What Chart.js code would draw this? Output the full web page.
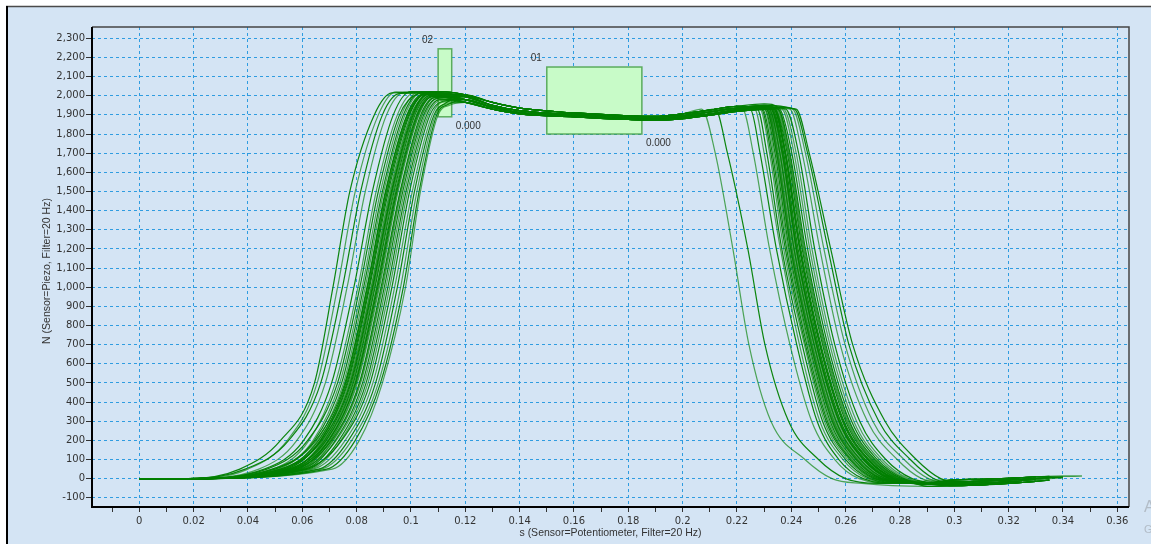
<!DOCTYPE html>
<html>
<head>
<meta charset="utf-8">
<script src="https://cdn.jsdelivr.net/npm/chart.js@4/dist/chart.umd.min.js"></script>
<style>
  html, body { margin: 0; padding: 0; background: #fff; }
  canvas { display: block; }
</style>
</head>
<body>
<canvas id="chart" width="1151" height="544"></canvas>
<script>
// Force (N) against travel (s), one stroke per press cycle.
const riseLevels = [50, 200, 500, 1000, 1500, 1900]
const fallLevels = [1930, 1700, 1200, 700, 300, 100, 0, -25]

// shared zero run before the press starts
const startX = [0, 0.018]

// x at each rise level, last entry = x of the stroke's peak
const riseX = [
  [0.037, 0.052, 0.0645, 0.0713, 0.0775, 0.0865, 0.093],
  [0.040, 0.0545, 0.0655, 0.0730, 0.0795, 0.088, 0.0945],
  [0.039, 0.055, 0.0668, 0.0748, 0.0815, 0.0895, 0.096],
  [0.044, 0.058, 0.0685, 0.0765, 0.0832, 0.091, 0.0975],
  [0.046, 0.0605, 0.0708, 0.0790, 0.0858, 0.0935, 0.100],
  [0.049, 0.0625, 0.0722, 0.0805, 0.0872, 0.0950, 0.1015],
  [0.047, 0.0620, 0.0730, 0.0812, 0.0880, 0.0958, 0.1025],
  [0.051, 0.0640, 0.0738, 0.0820, 0.0888, 0.0965, 0.1030],
  [0.049, 0.0645, 0.0745, 0.0826, 0.0895, 0.0972, 0.1035],
  [0.053, 0.0655, 0.0752, 0.0832, 0.0900, 0.0978, 0.1040],
  [0.050, 0.0650, 0.0757, 0.0838, 0.0906, 0.0985, 0.1045],
  [0.054, 0.0665, 0.0762, 0.0843, 0.0911, 0.0990, 0.1050],
  [0.052, 0.0668, 0.0768, 0.0848, 0.0917, 0.0995, 0.1055],
  [0.056, 0.0675, 0.0772, 0.0853, 0.0922, 0.1000, 0.1058],
  [0.053, 0.0672, 0.0777, 0.0858, 0.0928, 0.1005, 0.1062],
  [0.057, 0.0685, 0.0783, 0.0863, 0.0932, 0.1010, 0.1066],
  [0.055, 0.0688, 0.0788, 0.0868, 0.0938, 0.1015, 0.1070],
  [0.058, 0.0695, 0.0792, 0.0873, 0.0942, 0.1020, 0.1074],
  [0.056, 0.0697, 0.0797, 0.0878, 0.0948, 0.1025, 0.1078],
  [0.059, 0.0705, 0.0803, 0.0884, 0.0953, 0.1030, 0.1082],
  [0.057, 0.0708, 0.0810, 0.0890, 0.0960, 0.1036, 0.1086],
  [0.060, 0.0715, 0.0815, 0.0896, 0.0965, 0.1042, 0.1092],
  [0.061, 0.0722, 0.0822, 0.0902, 0.0970, 0.1047, 0.1097],
  [0.059, 0.0725, 0.0828, 0.0908, 0.0976, 0.1052, 0.1102],
  [0.062, 0.0735, 0.0835, 0.0915, 0.0982, 0.1058, 0.1106],
  [0.063, 0.0742, 0.0842, 0.0922, 0.0988, 0.1064, 0.1110],
  [0.061, 0.0745, 0.0850, 0.0930, 0.0995, 0.1070, 0.1115],
  [0.064, 0.0758, 0.0860, 0.0940, 0.1005, 0.1078, 0.1122],
  [0.066, 0.0770, 0.0870, 0.0950, 0.1013, 0.1085, 0.1128],
  [0.067, 0.0782, 0.0880, 0.0962, 0.1022, 0.1090, 0.1133],
  [0.069, 0.0795, 0.0888, 0.0972, 0.1030, 0.1095, 0.1138],
  [0.071, 0.0810, 0.0895, 0.0980, 0.1035, 0.1100, 0.1142],
  [0.054, 0.0668, 0.0765, 0.0845, 0.0913, 0.0992, 0.1052],
  [0.056, 0.0678, 0.0775, 0.0855, 0.0925, 0.1002, 0.1060],
  [0.055, 0.0682, 0.0780, 0.0860, 0.0930, 0.1008, 0.1064],
  [0.057, 0.0690, 0.0786, 0.0866, 0.0935, 0.1012, 0.1068],
  [0.058, 0.0698, 0.0795, 0.0875, 0.0945, 0.1022, 0.1076],
  [0.059, 0.0703, 0.0800, 0.0881, 0.0950, 0.1028, 0.1080],
  [0.052, 0.0660, 0.0760, 0.0840, 0.0908, 0.0987, 0.1048],
  [0.060, 0.0712, 0.0812, 0.0893, 0.0962, 0.1040, 0.1090]
]
const peakY = [2015, 2020, 2012, 2018, 2022, 2016, 2010, 2020, 2014, 2018,
               2008, 2012, 2015, 2005, 2010, 2006, 2000, 2004, 1995, 2000,
               1990, 1995, 1985, 1990, 1980, 1975, 1970, 1968, 1962, 1958,
               1955, 1950, 2010, 2005, 2008, 2000, 1998, 1995, 2012, 1990]

const fallX = [
  [0.2250, 0.2285, 0.2345, 0.2420, 0.2495, 0.2575, 0.2665, 0.2790],
  [0.2316, 0.2356, 0.2408, 0.2482, 0.2562, 0.2651, 0.2744, 0.2870],
  [0.2342, 0.2385, 0.2440, 0.2515, 0.2600, 0.2693, 0.2790, 0.2905],
  [0.2070, 0.2120, 0.2185, 0.2244, 0.2325, 0.2450, 0.2550, 0.2660],
  [0.2290, 0.2325, 0.2378, 0.2452, 0.2528, 0.2615, 0.2705, 0.2830],
  [0.2372, 0.2418, 0.2476, 0.2550, 0.2640, 0.2735, 0.2832, 0.2940],
  [0.2303, 0.2340, 0.2392, 0.2466, 0.2543, 0.2630, 0.2722, 0.2850],
  [0.2405, 0.2452, 0.2520, 0.2598, 0.2700, 0.2815, 0.2905, 0.3000],
  [0.2326, 0.2368, 0.2420, 0.2494, 0.2577, 0.2667, 0.2762, 0.2885],
  [0.2220, 0.2260, 0.2320, 0.2395, 0.2475, 0.2560, 0.2650, 0.2780],
  [0.2338, 0.2380, 0.2435, 0.2509, 0.2594, 0.2686, 0.2782, 0.2900],
  [0.2310, 0.2348, 0.2400, 0.2474, 0.2553, 0.2641, 0.2733, 0.2860],
  [0.2358, 0.2402, 0.2460, 0.2534, 0.2622, 0.2716, 0.2814, 0.2920],
  [0.2285, 0.2320, 0.2372, 0.2448, 0.2522, 0.2608, 0.2698, 0.2820],
  [0.2418, 0.2466, 0.2545, 0.2626, 0.2745, 0.2860, 0.2950, 0.3040],
  [0.2320, 0.2360, 0.2412, 0.2486, 0.2567, 0.2656, 0.2750, 0.2875],
  [0.2120, 0.2165, 0.2240, 0.2303, 0.2390, 0.2500, 0.2600, 0.2720],
  [0.2347, 0.2390, 0.2446, 0.2521, 0.2607, 0.2700, 0.2798, 0.2910],
  [0.2295, 0.2330, 0.2383, 0.2457, 0.2533, 0.2620, 0.2712, 0.2840],
  [0.2365, 0.2410, 0.2468, 0.2542, 0.2630, 0.2725, 0.2822, 0.2930],
  [0.2275, 0.2310, 0.2365, 0.2440, 0.2515, 0.2600, 0.2690, 0.2810],
  [0.2395, 0.2440, 0.2505, 0.2580, 0.2680, 0.2790, 0.2880, 0.2980],
  [0.2330, 0.2372, 0.2425, 0.2499, 0.2582, 0.2673, 0.2768, 0.2890],
  [0.2306, 0.2344, 0.2396, 0.2470, 0.2548, 0.2636, 0.2728, 0.2855],
  [0.2352, 0.2395, 0.2452, 0.2527, 0.2614, 0.2708, 0.2806, 0.2915],
  [0.2265, 0.2300, 0.2360, 0.2430, 0.2505, 0.2590, 0.2680, 0.2800],
  [0.2380, 0.2427, 0.2486, 0.2560, 0.2652, 0.2748, 0.2845, 0.2950],
  [0.2313, 0.2352, 0.2404, 0.2478, 0.2558, 0.2646, 0.2738, 0.2865],
  [0.2412, 0.2460, 0.2535, 0.2612, 0.2722, 0.2838, 0.2925, 0.3020],
  [0.2300, 0.2335, 0.2388, 0.2462, 0.2538, 0.2625, 0.2718, 0.2845],
  [0.2334, 0.2376, 0.2430, 0.2504, 0.2588, 0.2680, 0.2775, 0.2895],
  [0.2323, 0.2364, 0.2416, 0.2490, 0.2572, 0.2662, 0.2756, 0.2880],
  [0.2318, 0.2358, 0.2410, 0.2484, 0.2565, 0.2654, 0.2747, 0.2872],
  [0.2328, 0.2370, 0.2422, 0.2496, 0.2580, 0.2670, 0.2765, 0.2888],
  [0.2336, 0.2378, 0.2432, 0.2506, 0.2591, 0.2683, 0.2779, 0.2898],
  [0.2312, 0.2350, 0.2402, 0.2476, 0.2556, 0.2644, 0.2736, 0.2862],
  [0.2324, 0.2366, 0.2418, 0.2492, 0.2575, 0.2665, 0.2759, 0.2882],
  [0.2344, 0.2388, 0.2443, 0.2518, 0.2604, 0.2697, 0.2794, 0.2908],
  [0.2308, 0.2346, 0.2398, 0.2472, 0.2551, 0.2639, 0.2731, 0.2858],
  [0.2350, 0.2393, 0.2449, 0.2524, 0.2611, 0.2704, 0.2802, 0.2912]
]

// the hold phase between rise and fall, four bands
const plateauX = [0.10, 0.11, 0.12, 0.13, 0.14, 0.16, 0.18, 0.19, 0.20, 0.21, 0.22, 0.23, 0.24]
const plateauY = [
  [2018, 2022, 2005, 1965, 1935, 1910, 1895, 1892, 1905, 1925, 1945, 1958, 1962],
  [2010, 2015, 1995, 1950, 1922, 1902, 1888, 1885, 1895, 1915, 1935, 1950, 1955],
  [2002, 2008, 1980, 1940, 1912, 1895, 1882, 1878, 1888, 1905, 1925, 1942, 1948],
  [1995, 2000, 1965, 1930, 1905, 1890, 1876, 1872, 1880, 1898, 1918, 1935, 1940]
]
const plateauPick = [0, 0, 1, 0, 1, 2, 0, 1, 2, 1, 3, 2, 0, 1, 2, 3, 1, 2, 0, 3,
                     1, 2, 3, 1, 2, 3, 2, 3, 1, 3, 2, 3, 1, 2, 0, 3, 2, 1, 0, 2]

// return run after release
const tailX = [0.29, 0.30, 0.31, 0.32, 0.325, 0.33, 0.335, 0.34, 0.347]
const tailY = [
  [-8, -6, -3, 2, 6, 10, 12, 13, 14],
  [-20, -18, -13, -7, -3, 1, 5, 8, 10],
  [-30, -28, -23, -16, -11, -5, 0, 3, 6],
  [-40, -37, -32, -25, -20, -14, -8, -4, 0]
]
const tailPick = [1, 2, 0, 3, 1, 2, 3, 0, 2, 1, 3, 2, 0, 1, 3, 2, 1, 0, 2, 3,
                  1, 2, 0, 3, 2, 1, 3, 0, 2, 1, 3, 2, 0, 3, 1, 2, 3, 0, 2, 1]
const tailEnd = [0.33, 0.335, 0.325, 0.33, 0.34, 0.32, 0.335, 0.33, 0.31, 0.335,
                 0.33, 0.325, 0.347, 0.33, 0.335, 0.32, 0.33, 0.335, 0.325, 0.33,
                 0.34, 0.33, 0.335, 0.31, 0.33, 0.325, 0.335, 0.33, 0.32, 0.335,
                 0.33, 0.34, 0.33, 0.335, 0.33, 0.325, 0.335, 0.33, 0.32, 0.335]

// tick values on the force axis
const yTicks = [-100, 0, 100, 200, 300, 400, 500, 600, 700, 800, 900, 1000, 1100, 1200, 1300, 1400, 1500,
                1600, 1700, 1800, 1900, 2000, 2100, 2200, 2300]

// evaluation windows
const windowNames = ['01', '02']
const windowX = [[0.15, 0.185], [0.110, 0.115]]
const windowY = [[1800, 2150], [1890, 2245]]
const windowResult = ['0.000', '0.000']

const xTitle = 's (Sensor=Potentiometer, Filter=20 Hz)'
const yTitle = 'N (Sensor=Piezo, Filter=20 Hz)'

function strokePoints(i) {
  const pts = startX.map(x => ({ x, y: 0 }))
  riseLevels.forEach((y, k) => pts.push({ x: riseX[i][k], y }))
  const riseEnd = riseX[i][riseLevels.length]
  pts.push({ x: riseEnd, y: peakY[i] })
  const fallStart = fallX[i][0]
  const py = plateauY[plateauPick[i]]
  plateauX.forEach((x, k) => {
    if (x > riseEnd + 0.004 && x < fallStart - 0.004) pts.push({ x, y: py[k] })
  })
  fallLevels.forEach((y, k) => pts.push({ x: fallX[i][k], y }))
  const fallEnd = fallX[i][fallX[i].length - 1]
  const ty = tailY[tailPick[i]]
  tailX.forEach((x, k) => {
    if (x > fallEnd + 0.003 && x <= tailEnd[i] + 1e-9) pts.push({ x, y: ty[k] })
  })
  return pts
}

const datasets = riseX.map((_, i) => ({
  data: strokePoints(i),
  borderColor: i % 2 ? 'rgba(0,128,0,0.65)' : 'rgba(0,128,0,0.95)',
  borderWidth: 1.2,
  pointRadius: 0,
  fill: false,
  cubicInterpolationMode: 'monotone'
}))

const gridBlue = '#2f9ce0'
const isMajorX = v => Math.round(v * 100) % 2 === 0

// background, frame, windows and titles
const decor = {
  id: 'decor',
  beforeDraw(chart) {
    const { ctx, width, height } = chart
    ctx.save()
    ctx.fillStyle = '#ffffff'
    ctx.fillRect(0, 0, width, height)
    ctx.fillStyle = '#d4e4f4'
    ctx.fillRect(7, 7, width - 7, height - 7)
    ctx.strokeStyle = '#4a4a4a'
    ctx.lineWidth = 1.5
    ctx.beginPath()
    ctx.moveTo(6, 6.5)
    ctx.lineTo(width, 6.5)
    ctx.stroke()
    ctx.strokeStyle = '#000'
    ctx.lineWidth = 2
    ctx.beginPath()
    ctx.moveTo(7, 6)
    ctx.lineTo(7, height)
    ctx.stroke()
    ctx.restore()
  },
  beforeDatasetsDraw(chart) {
    const { ctx, scales: { x, y } } = chart
    ctx.save()
    windowNames.forEach((name, i) => {
      const l = x.getPixelForValue(windowX[i][0])
      const r = x.getPixelForValue(windowX[i][1])
      const t = y.getPixelForValue(windowY[i][1])
      const b = y.getPixelForValue(windowY[i][0])
      ctx.fillStyle = '#c8fbc8'
      ctx.fillRect(l, t, r - l, b - t)
      ctx.strokeStyle = 'rgba(70,160,70,0.85)'
      ctx.lineWidth = 1.5
      ctx.strokeRect(l, t, r - l, b - t)
    })
    ctx.restore()
  },
  afterDatasetsDraw(chart) {
    const { ctx, scales: { x, y } } = chart
    ctx.save()
    ctx.font = '10px "Liberation Sans", Arial, sans-serif'
    ctx.fillStyle = '#333'
    windowNames.forEach((name, i) => {
      const l = x.getPixelForValue(windowX[i][0])
      const r = x.getPixelForValue(windowX[i][1])
      const t = y.getPixelForValue(windowY[i][1])
      const b = y.getPixelForValue(windowY[i][0])
      ctx.textAlign = 'right'
      ctx.textBaseline = 'bottom'
      ctx.fillText(name, l - 5, t - 4)
      ctx.textAlign = 'left'
      ctx.textBaseline = 'top'
      ctx.fillText(windowResult[i], r + 4, b + 4)
    })
    ctx.restore()
  },
  afterDraw(chart) {
    const { ctx, chartArea: a } = chart
    ctx.save()
    // plot frame
    ctx.strokeStyle = '#444'
    ctx.lineWidth = 1.5
    ctx.beginPath()
    ctx.moveTo(a.left, a.top)
    ctx.lineTo(a.right, a.top)
    ctx.lineTo(a.right, a.bottom)
    ctx.stroke()
    ctx.strokeStyle = '#000'
    ctx.lineWidth = 2
    ctx.beginPath()
    ctx.moveTo(a.left, a.top)
    ctx.lineTo(a.left, a.bottom)
    ctx.lineTo(a.right, a.bottom)
    ctx.stroke()
    // axis titles
    ctx.fillStyle = '#333'
    ctx.font = '10.5px "Liberation Sans", Arial, sans-serif'
    ctx.textAlign = 'center'
    ctx.textBaseline = 'middle'
    ctx.fillText(xTitle, (a.left + a.right) / 2, 533)
    ctx.translate(47, 271)
    ctx.rotate(-Math.PI / 2)
    ctx.fillText(yTitle, 0, 0)
    ctx.restore()
    // faint system watermark at the right edge
    ctx.save()
    ctx.fillStyle = 'rgba(150,155,160,0.55)'
    ctx.textAlign = 'left'
    ctx.textBaseline = 'alphabetic'
    ctx.font = '16px "Liberation Sans", Arial, sans-serif'
    ctx.fillText('Activate Windows', 1144, 512)
    ctx.font = '11px "Liberation Sans", Arial, sans-serif'
    ctx.fillText('Go to Settings to activate Windows.', 1144, 533)
    ctx.restore()
  }
}

new Chart(document.getElementById('chart'), {
  type: 'line',
  data: { datasets },
  plugins: [decor],
  options: {
    responsive: false,
    animation: false,
    devicePixelRatio: 1,
    layout: { padding: { left: 0, top: 27, right: 22, bottom: 0 } },
    plugins: { legend: { display: false }, tooltip: { enabled: false } },
    scales: {
      x: {
        type: 'linear',
        min: -0.0174,
        max: 0.3643,
        afterFit: s => { s.height = 37 },
        border: { display: false, dash: [3, 3] },
        grid: {
          color: c => (c.tick && isMajorX(c.tick.value)) ? gridBlue : 'rgba(0,0,0,0)',
          lineWidth: 1,
          tickColor: '#333',
          tickLength: 5
        },
        ticks: {
          stepSize: 0.01,
          includeBounds: false,
          autoSkip: false,
          maxRotation: 0,
          padding: 3,
          color: '#333',
          font: { family: '"DejaVu Sans", Verdana, sans-serif', size: 10 },
          callback: v => isMajorX(v) ? String(+(Math.round(v * 100) / 100).toFixed(2)) : ''
        }
      },
      y: {
        min: -148,
        max: 2359,
        afterFit: s => { s.width = 92 },
        afterBuildTicks: s => { s.ticks = yTicks.map(value => ({ value })) },
        border: { display: false, dash: [3, 3] },
        grid: {
          color: gridBlue,
          lineWidth: 1,
          tickColor: '#333',
          tickLength: 6
        },
        ticks: {
          autoSkip: false,
          padding: 1,
          color: '#333',
          font: { family: '"DejaVu Sans", Verdana, sans-serif', size: 10 },
          callback: v => v.toLocaleString('en-US')
        }
      }
    }
  }
})
</script>
</body>
</html>
